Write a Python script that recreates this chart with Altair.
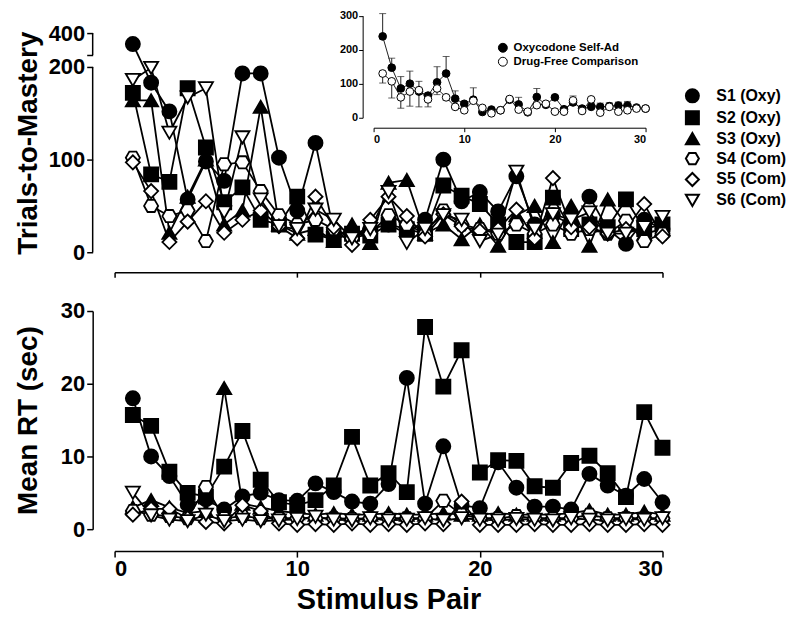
import altair as alt
import pandas as pd

FONT = "Liberation Sans"

pairs = list(range(1, 31))
series_names = ["S1 (Oxy)", "S2 (Oxy)", "S3 (Oxy)", "S4 (Com)", "S5 (Com)", "S6 (Com)"]

# Trials-to-Mastery (top panel)
trials_s1 = [350, 183, 152, 57, 98, 77, 193, 193, 102, 45, 118, 22, 20, 25, 30, 20, 35, 100, 55, 65, 44, 82, 30, 40, 30, 60, 25, 9, 35, 25]
trials_s2 = [172, 84, 76, 177, 113, 54, 70, 35, 30, 60, 19, 14, 20, 18, 30, 25, 20, 72, 61, 52, 30, 11, 11, 59, 25, 30, 27, 57, 25, 30]
trials_s3 = [164, 164, 21, 60, 100, 30, 45, 157, 30, 20, 25, 12, 30, 10, 75, 78, 20, 30, 14, 30, 7, 40, 50, 11, 50, 7, 57, 30, 20, 25]
trials_s4 = [102, 50, 39, 45, 12, 95, 97, 66, 40, 30, 35, 25, 15, 20, 40, 30, 20, 45, 30, 25, 20, 30, 20, 30, 20, 25, 20, 34, 12, 20]
trials_s5 = [97, 66, 11, 33, 55, 21, 35, 45, 28, 15, 60, 27, 8, 35, 60, 39, 17, 41, 28, 23, 25, 46, 15, 80, 27, 27, 20, 25, 52, 17]
trials_s6 = [186, 199, 129, 167, 177, 43, 124, 57, 28, 25, 46, 35, 15, 25, 65, 10, 25, 40, 35, 12, 19, 87, 25, 41, 35, 43, 20, 20, 27, 38]

# Mean RT (sec) (bottom panel)
rt_s1 = [18.0, 10.0, 7.3, 3.4, 4.1, 2.7, 4.5, 5.0, 4.0, 3.9, 6.3, 5.1, 3.8, 3.5, 6.2, 20.8, 3.5, 11.4, 3.3, 2.9, 9.2, 5.7, 3.1, 3.1, 2.7, 7.6, 6.0, 4.6, 6.9, 3.7]
rt_s2 = [15.7, 14.2, 7.9, 5.0, 4.5, 8.6, 13.5, 6.8, 3.7, 3.3, 4.0, 6.0, 12.7, 6.0, 7.7, 5.1, 27.8, 19.6, 24.6, 7.8, 9.5, 9.4, 5.9, 5.7, 9.1, 10.1, 7.7, 4.4, 16.1, 11.2]
rt_s3 = [3.0, 4.0, 3.0, 2.2, 2.5, 19.4, 3.5, 3.0, 2.5, 2.2, 2.0, 2.2, 2.0, 2.0, 2.2, 2.0, 2.0, 2.2, 2.0, 2.0, 2.2, 2.0, 2.0, 2.0, 2.2, 2.6, 2.0, 2.0, 2.4, 2.0]
rt_s4 = [2.5, 2.0, 1.8, 1.5, 5.8, 1.5, 1.8, 1.5, 1.5, 1.5, 1.5, 1.5, 1.4, 1.5, 1.5, 1.5, 1.5, 3.9, 2.0, 1.5, 1.5, 1.8, 1.5, 1.5, 1.5, 2.0, 1.5, 1.5, 1.5, 1.5]
rt_s5 = [2.0, 2.8, 2.8, 1.5, 1.0, 0.8, 3.3, 2.5, 0.8, 0.6, 0.7, 0.6, 0.8, 0.6, 0.7, 0.6, 0.8, 0.7, 3.8, 0.6, 0.6, 0.6, 0.7, 0.6, 0.6, 0.7, 0.6, 0.6, 0.7, 0.6]
rt_s6 = [5.0, 1.9, 1.3, 1.1, 2.0, 1.1, 1.3, 1.1, 1.2, 1.4, 1.7, 1.3, 1.2, 1.5, 1.2, 1.3, 1.5, 1.2, 1.5, 1.3, 1.2, 1.4, 1.3, 1.2, 1.5, 1.3, 1.2, 1.4, 1.3, 1.5]

# Inset: group means and SEM
inset_groups = ["Oxycodone Self-Ad", "Drug-Free Comparison"]
oxy_mean = [239, 147, 86, 100, 77, 65, 104, 130, 56, 41, 53, 17, 24, 22, 53, 39, 16, 61, 38, 60, 25, 45, 27, 32, 32, 34, 36, 36, 30, 27]
oxy_sem = [67, 28, 35, 37, 30, 8, 46, 50, 23, 6, 35, 5, 5, 5, 6, 21, 5, 25, 8, 6, 5, 19, 5, 10, 11, 10, 10, 12, 5, 3]
com_mean = [130, 107, 60, 77, 81, 54, 86, 60, 32, 22, 50, 29, 13, 22, 55, 24, 18, 37, 41, 18, 18, 51, 20, 54, 15, 32, 18, 22, 27, 27]
com_sem = [28, 49, 32, 43, 49, 22, 18, 8, 5, 5, 6, 5, 5, 5, 6, 5, 5, 8, 6, 5, 5, 6, 5, 10, 5, 5, 5, 5, 5, 5]

# Axis break segments of the top y axis (data units)
axis_seg_lo = [0, 300]
axis_seg_hi = [200, 400]

HEX = "M-1,0L-0.5,-0.866L0.5,-0.866L1,0L0.5,0.866L-0.5,0.866Z"
shape_range = ["circle", "square", "triangle-up", HEX, "diamond", "triangle-down"]
fill_range = ["black", "black", "black", "white", "white", "white"]


def long_df(cols):
    rows = []
    for name, vals in zip(series_names, cols):
        for p, v in zip(pairs, vals):
            rows.append({"pair": p, "series": name, "value": v})
    return pd.DataFrame(rows)


df_trials = long_df([trials_s1, trials_s2, trials_s3, trials_s4, trials_s5, trials_s6])
df_rt = long_df([rt_s1, rt_s2, rt_s3, rt_s4, rt_s5, rt_s6])

inset_rows = []
for p, m, s in zip(pairs, oxy_mean, oxy_sem):
    inset_rows.append({"pair": p, "group": inset_groups[0], "mean": m, "lo": m, "hi": m + s, "cap": m + s})
for p, m, s in zip(pairs, com_mean, com_sem):
    inset_rows.append({"pair": p, "group": inset_groups[1], "mean": m, "lo": m - s, "hi": m, "cap": m - s})
df_inset = pd.DataFrame(inset_rows)

df_axis = pd.DataFrame({"lo": axis_seg_lo, "hi": axis_seg_hi})

W = 550
H_TOP = 220
H_BOT = 219

main_legend = alt.Legend(
    title=None, orient="none", legendX=572, legendY=55,
    labelFontSize=16, labelFontWeight="bold", labelFont=FONT, labelColor="black",
    symbolSize=170, symbolStrokeColor="black", symbolStrokeWidth=2,
    rowPadding=0, labelOffset=16,
)

y_scale_top = alt.Scale(domain=[0, 200, 300, 400], range=[H_TOP, 34, 22, 0], nice=False, zero=False)

x_top = alt.X("pair:Q", scale=alt.Scale(domain=[0, 30], nice=False),
              axis=alt.Axis(values=[0, 10, 20, 30], labels=False, title=None, offset=20,
                            tickSize=5, tickWidth=1.5, domainWidth=1.5))
y_top = alt.Y("value:Q", scale=y_scale_top,
              axis=alt.Axis(values=[0, 100, 200, 300, 400], labelExpr="datum.value == 300 ? '' : datum.label",
                            domain=False, offset=22, tickSize=6, tickWidth=1.5,
                            labelFontSize=22, labelFontWeight="bold", labelPadding=2,
                            title="Trials-to-Mastery", titleFontSize=28, titleFontWeight="bold", titlePadding=6))

top_lines = alt.Chart(df_trials).mark_line(color="black", strokeWidth=1.8).encode(
    x=x_top, y=y_top, detail="series:N")
top_points = alt.Chart(df_trials).mark_point(filled=True, size=200, stroke="black", strokeWidth=1.8, opacity=1).encode(
    x=x_top, y=y_top,
    shape=alt.Shape("series:N", scale=alt.Scale(domain=series_names, range=shape_range), legend=main_legend),
    color=alt.Color("series:N", scale=alt.Scale(domain=series_names, range=fill_range), legend=main_legend),
)
top_axis_rules = alt.Chart(df_axis).mark_rule(color="black", strokeWidth=1.5).encode(
    x=alt.value(-22), y=alt.Y("lo:Q", scale=y_scale_top), y2="hi:Q")

main_top = alt.layer(top_lines, top_points, top_axis_rules)

# Inset
x_in = alt.X("pair:Q", scale=alt.Scale(domain=[0, 30], range=[260, 533], nice=False),
             axis=alt.Axis(orient="bottom", offset=-125, values=[0, 10, 20, 30], tickSize=4, tickWidth=1,
                           domainWidth=1, labelFontSize=11, labelFontWeight="bold", labelPadding=2, title=None))
y_scale_in = alt.Scale(domain=[0, 300], range=[85, -17.5], nice=False, zero=False)
y_in_axis = alt.Axis(orient="left", offset=-249, values=[0, 100, 200, 300], tickSize=4, tickWidth=1,
                     domainWidth=1, labelFontSize=11, labelFontWeight="bold", labelPadding=1, title=None)

in_lines = alt.Chart(df_inset).mark_line(color="#222", strokeWidth=1).encode(
    x=x_in, y=alt.Y("mean:Q", scale=y_scale_in, axis=y_in_axis), detail="group:N")
in_err = alt.Chart(df_inset).mark_rule(color="#222", strokeWidth=1).encode(
    x=x_in, y=alt.Y("lo:Q", scale=y_scale_in, axis=y_in_axis), y2="hi:Q")
in_caps = alt.Chart(df_inset).mark_tick(orient="horizontal", size=7, thickness=1, color="#222").encode(
    x=x_in, y=alt.Y("cap:Q", scale=y_scale_in, axis=y_in_axis))
in_points = alt.Chart(df_inset).mark_point(filled=True, size=60, stroke="black", strokeWidth=1, opacity=1).encode(
    x=x_in, y=alt.Y("mean:Q", scale=y_scale_in, axis=y_in_axis),
    color=alt.Color("group:N", scale=alt.Scale(domain=inset_groups, range=["black", "white"]),
                    legend=alt.Legend(title=None, orient="none", legendX=384, legendY=9,
                                      labelFontSize=11.5, labelFontWeight="bold", labelFont=FONT,
                                      labelColor="black", symbolType="circle", symbolSize=80,
                                      symbolStrokeColor="black", symbolStrokeWidth=1,
                                      rowPadding=0, labelOffset=5)),
)
inset = alt.layer(in_lines, in_err, in_caps, in_points)

top = alt.layer(main_top, inset).resolve_scale(
    x="independent", y="independent", color="independent", shape="independent"
).properties(width=W, height=H_TOP)

# Bottom panel
x_bot = alt.X("pair:Q", scale=alt.Scale(domain=[0, 30], nice=False),
              axis=alt.Axis(values=[0, 10, 20, 30], offset=22, tickSize=6, tickWidth=1.5, domainWidth=1.5,
                            labelFontSize=22, labelFontWeight="bold", labelPadding=2,
                            title="Stimulus Pair", titleFontSize=29, titleFontWeight="bold", titlePadding=6))
y_bot = alt.Y("value:Q", scale=alt.Scale(domain=[0, 30], nice=False),
              axis=alt.Axis(values=[0, 10, 20, 30], offset=22, tickSize=6, tickWidth=1.5, domainWidth=1.5,
                            labelFontSize=22, labelFontWeight="bold", labelPadding=2,
                            title="Mean RT (sec)", titleFontSize=28, titleFontWeight="bold", titlePadding=18))

bot_lines = alt.Chart(df_rt).mark_line(color="black", strokeWidth=1.8).encode(
    x=x_bot, y=y_bot, detail="series:N")
bot_points = alt.Chart(df_rt).mark_point(filled=True, size=200, stroke="black", strokeWidth=1.8, opacity=1).encode(
    x=x_bot, y=y_bot,
    shape=alt.Shape("series:N", scale=alt.Scale(domain=series_names, range=shape_range), legend=None),
    color=alt.Color("series:N", scale=alt.Scale(domain=series_names, range=fill_range), legend=None),
)
bottom = alt.layer(bot_lines, bot_points).properties(width=W, height=H_BOT)

chart = alt.vconcat(top, bottom, spacing=22).resolve_scale(
    shape="independent", color="independent"
).properties(
    padding={"left": 6, "top": 0, "right": 5, "bottom": 5},
    background="white",
).configure_view(stroke=None).configure_axis(
    grid=False, labelFont=FONT, titleFont=FONT, labelColor="black", titleColor="black",
    domainColor="black", tickColor="black",
).configure_legend(labelFont=FONT)

chart.save("out.html", embed_options={"renderer": "svg", "actions": False})
